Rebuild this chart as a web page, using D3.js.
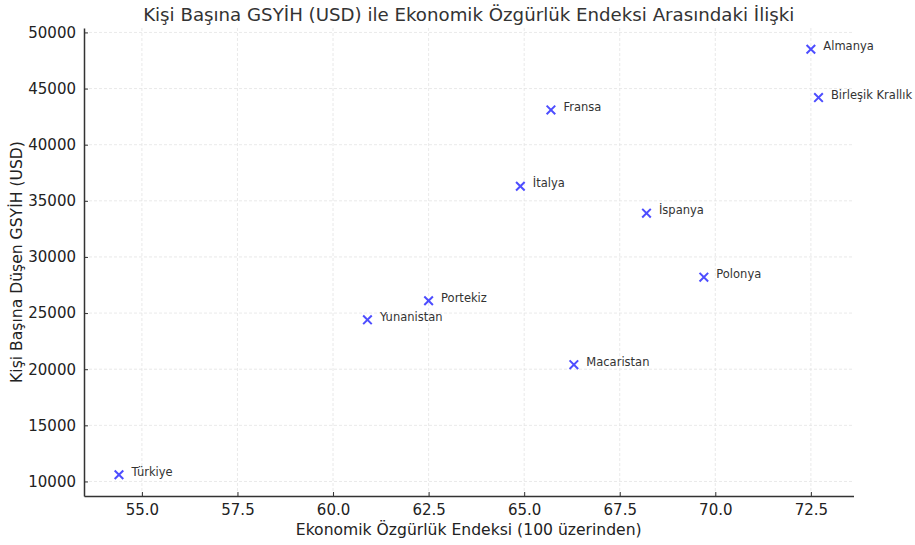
<!DOCTYPE html>
<html><head><meta charset="utf-8">
<script src="https://cdn.jsdelivr.net/npm/d3@7"></script>
<style>body{margin:0;background:#fff}svg{display:block;font-family:"DejaVu Sans",sans-serif}</style>
</head><body><svg id="c" width="915" height="545"></svg>
<script>
const countries = ["Türkiye","Yunanistan","Portekiz","Macaristan","Polonya","İtalya","İspanya","Fransa","Almanya","Birleşik Krallık"];
const freedomIndex = [54.4,60.9,62.5,66.3,69.7,64.9,68.2,65.7,72.5,72.7];
const gdpPerCapita = [10600,24400,26100,20400,28200,36300,33900,43100,48500,44200];
const xTicks = [55.0,57.5,60.0,62.5,65.0,67.5,70.0,72.5];
const yTicks = [10000,15000,20000,25000,30000,35000,40000,45000,50000];
const titleText = "Kişi Başına GSYİH (USD) ile Ekonomik Özgürlük Endeksi Arasındaki İlişki";
const xLabel = "Ekonomik Özgürlük Endeksi (100 üzerinden)";
const yLabel = "Kişi Başına Düşen GSYİH (USD)";

const svg = d3.select("#c");
const L=84, R=853.5, T=28, B=496;
const xr = d3.extent(freedomIndex), yr = d3.extent(gdpPerCapita);
const xm = (xr[1]-xr[0])*0.05, ym=(yr[1]-yr[0])*0.05;
const x = d3.scaleLinear().domain([xr[0]-xm, xr[1]+xm]).range([L,R]);
const y = d3.scaleLinear().domain([yr[0]-ym, yr[1]+ym]).range([B,T]);

// grid
const g = svg.append("g");
g.selectAll(".gx").data(xTicks).join("line")
  .attr("x1",d=>x(d)).attr("x2",d=>x(d)).attr("y1",T).attr("y2",B)
  .attr("stroke","#e3e3e3").attr("stroke-width",0.8).attr("stroke-dasharray","3,2");
g.selectAll(".gy").data(yTicks).join("line")
  .attr("y1",d=>y(d)).attr("y2",d=>y(d)).attr("x1",L).attr("x2",R)
  .attr("stroke","#e3e3e3").attr("stroke-width",0.8).attr("stroke-dasharray","3,2");

// axes
const xAxis = d3.axisBottom(x).tickValues(xTicks).tickFormat(d3.format(".1f")).tickSizeInner(-4).tickSizeOuter(0).tickPadding(8);
const yAxis = d3.axisLeft(y).tickValues(yTicks).tickFormat(d3.format("d")).tickSizeInner(-4).tickSizeOuter(0).tickPadding(8);
const ax = svg.append("g").attr("transform",`translate(0,${B})`).call(xAxis);
const ay = svg.append("g").attr("transform",`translate(${L},0)`).call(yAxis);
[ax,ay].forEach(a=>{
  a.select(".domain").attr("stroke","#333").attr("stroke-width",1.5);
  a.selectAll(".tick line").attr("stroke","#333").attr("stroke-width",1);
  a.selectAll(".tick text").attr("fill","#222").style("font-size","15px").style("font-family","DejaVu Sans");
});

// markers
const s=4.3;
const pts = svg.append("g").selectAll("g").data(countries).join("g")
  .attr("transform",(d,i)=>`translate(${x(freedomIndex[i])},${y(gdpPerCapita[i])})`);
pts.append("path").attr("d",`M${-s},${-s}L${s},${s}M${-s},${s}L${s},${-s}`)
  .attr("stroke","#4d4dff").attr("stroke-width",2).attr("fill","none");

// labels
svg.append("g").selectAll("text").data(countries).join("text")
  .attr("x",(d,i)=>x(freedomIndex[i]+0.3)+1)
  .attr("y",(d,i)=>y(gdpPerCapita[i])+1)
  .attr("fill","#333").style("font-size","11.5px").text(d=>d);

// title & labels
svg.append("text").attr("x",(L+R)/2).attr("y",21).attr("text-anchor","middle")
  .attr("fill","#333").style("font-size","18.2px").text(titleText);
svg.append("text").attr("x",(L+R)/2).attr("y",535).attr("text-anchor","middle")
  .attr("fill","#222").style("font-size","15.6px").text(xLabel);
svg.append("text").attr("transform",`translate(22,${(T+B)/2}) rotate(-90)`).attr("text-anchor","middle")
  .attr("fill","#222").style("font-size","15.6px").text(yLabel);
</script></body></html>
